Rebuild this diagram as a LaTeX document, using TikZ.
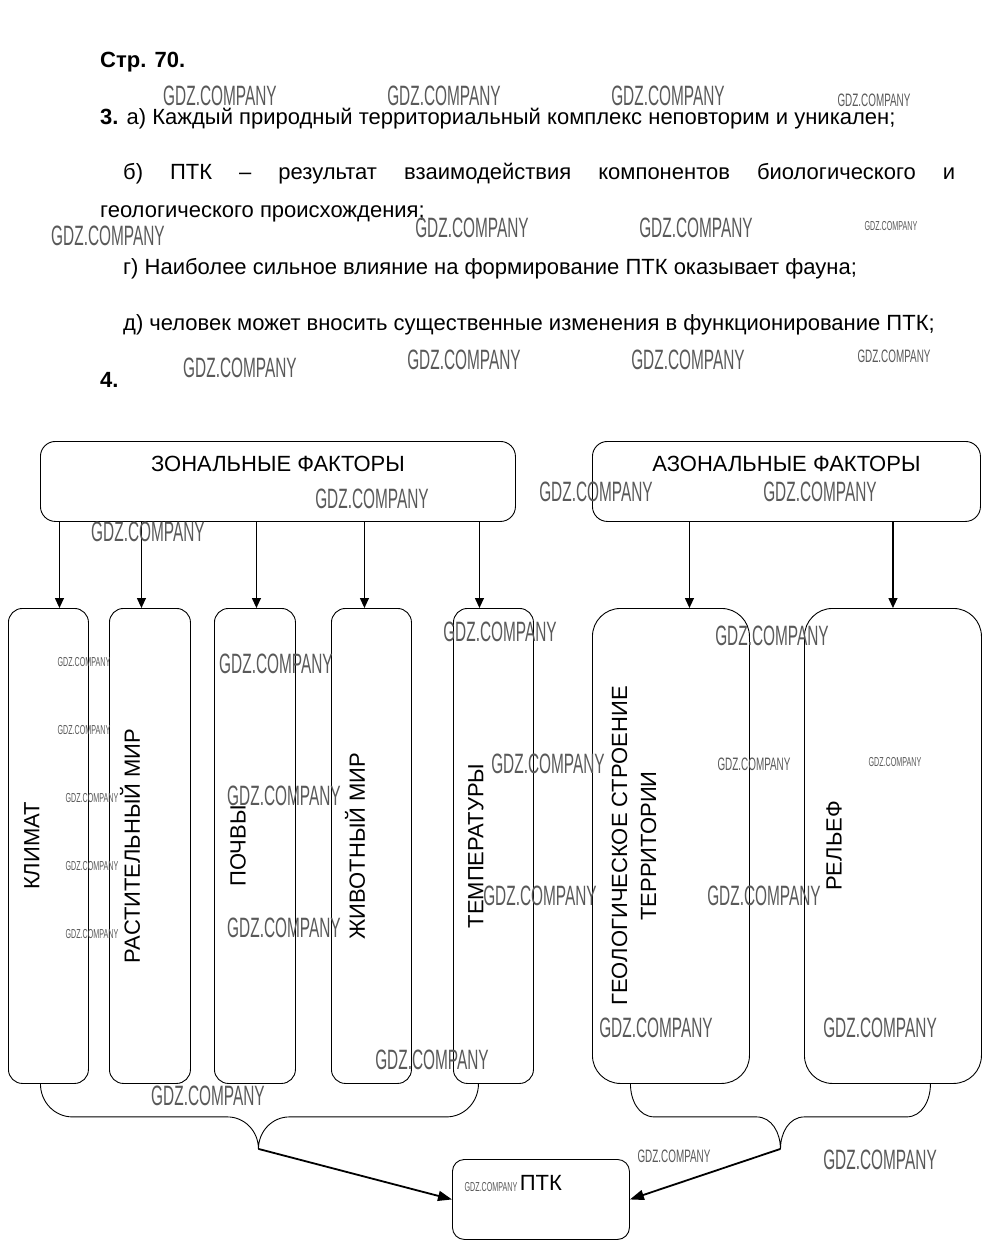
\documentclass[tikz,border=0pt]{standalone}
\usepackage{fontspec}
\setmainfont{Liberation Sans}
\usepackage{graphicx}
\usetikzlibrary{arrows.meta}

\newcommand{\gdz}{\scalebox{0.55}[1]{GDZ.COMPANY}}

\begin{document}
\begin{tikzpicture}[x=1pt,y=-1pt,
  txt/.style={anchor=base west,inner sep=0pt,font=\fontsize{22}{26}\selectfont},
  lab/.style={inner sep=0pt,font=\fontsize{22}{29}\selectfont},
  vlab/.style={lab,rotate=90,align=center},
  topbox/.style={draw,line width=0.9pt,rounded corners=15pt,minimum height=80pt,anchor=north west},
  thin box/.style={draw,line width=0.9pt,rounded corners=14pt,minimum height=475pt,anchor=north west},
  wide box/.style={draw,line width=0.9pt,rounded corners=28pt,minimum height=475pt,anchor=north west},
  varr/.style={line width=1.2pt,-{Triangle[length=10pt,width=9pt]}},
  darr/.style={line width=1.8pt,-{Triangle[length=14pt,width=10pt]}},
  brace/.style={line width=0.9pt},
  wml/.style={inner sep=0pt,text=black!65,font=\fontsize{28}{28}\selectfont},
  wms/.style={inner sep=0pt,text=black!65,font=\fontsize{18}{18}\selectfont},
  wmt/.style={inner sep=0pt,text=black!65,font=\fontsize{13}{13}\selectfont}]
  \useasboundingbox (0,0) rectangle (991,1252);

  % text of the page
  \node[txt] (str) at (100,68) {\textbf{Стр. 70.}};
  \node[txt] (p3) at (100,125) {\textbf{3.} а) Каждый природный территориальный комплекс неповторим и уникален;};
  \node[txt] (pb) at (123,179) {\makebox[832pt][s]{б) ПТК – результат взаимодействия компонентов биологического и}};
  \node[txt] (pb2) at (100,217) {геологического происхождения;};
  \node[txt] (pg) at (123,274) {г) Наиболее сильное влияние на формирование ПТК оказывает фауна;};
  \node[txt] (pd) at (123,330) {д) человек может вносить существенные изменения в функционирование ПТК;};
  \node[txt] (p4) at (100,387) {\textbf{4.}};

  % factors
  \node[topbox,minimum width=475pt] (zon) at (40,441) {};
  \node[lab] (zont) at ([yshift=-23pt]zon.north) {ЗОНАЛЬНЫЕ ФАКТОРЫ};
  \node[topbox,minimum width=388pt] (az) at (592,441) {};
  \node[lab] (azt) at ([yshift=-23pt]az.north) {АЗОНАЛЬНЫЕ ФАКТОРЫ};

  % components
  \node[thin box,minimum width=80pt] (klim) at (8,608) {};
  \node[thin box,minimum width=81pt] (rast) at (109,608) {};
  \node[thin box,minimum width=81pt] (poch) at (214,608) {};
  \node[thin box,minimum width=80pt] (zhiv) at (331,608) {};
  \node[thin box,minimum width=80pt] (temp) at (453,608) {};
  \node[wide box,minimum width=157pt] (geo) at (592,608) {};
  \node[wide box,minimum width=177pt] (rel) at (804,608) {};

  \node[vlab] (klimt) at ([xshift=24pt]klim.west) {КЛИМАТ};
  \node[vlab] (rastt) at ([xshift=21pt]rast.west) {РАСТИТЕЛЬНЫЙ МИР};
  \node[vlab] (pocht) at ([xshift=24pt]poch.west) {ПОЧВЫ};
  \node[vlab] (zhivt) at ([xshift=24pt]zhiv.west) {ЖИВОТНЫЙ МИР};
  \node[vlab] (tempt) at ([xshift=23pt]temp.west) {ТЕМПЕРАТУРЫ};
  \node[vlab] (geot) at ([xshift=42pt]geo.west) {ГЕОЛОГИЧЕСКОЕ СТРОЕНИЕ\\ТЕРРИТОРИИ};
  \node[vlab] (relt) at ([xshift=30pt]rel.west) {РЕЛЬЕФ};

  \coordinate (ka) at ([xshift=11pt]klim.north);
  \coordinate (ra) at ([xshift=-8.5pt]rast.north);
  \coordinate (pa) at ([xshift=1.5pt]poch.north);
  \coordinate (za) at ([xshift=-7pt]zhiv.north);
  \coordinate (ta) at ([xshift=-14pt]temp.north);
  \coordinate (ga) at ([xshift=18.5pt]geo.north);
  \coordinate (la) at (rel.north);
  \draw[varr] (zon.south -| ka) -- (ka);
  \draw[varr] (zon.south -| ra) -- (ra);
  \draw[varr] (zon.south -| pa) -- (pa);
  \draw[varr] (zon.south -| za) -- (za);
  \draw[varr] (zon.south -| ta) -- (ta);
  \draw[varr] (az.south -| ga) -- (ga);
  \draw[varr] (az.south -| la) -- (la);

  % braces and result
  \draw[brace] ([xshift=-8pt]klim.south) to[out=-90,in=180] ++(32,33) -- ++(155,0)
    to[out=0,in=90] ++(31,32) coordinate (ltip) to[out=90,in=180] ++(31,-32) -- ++(157,0)
    to[out=0,in=-90] ([xshift=-15pt]temp.south);
  \draw[brace] ([xshift=-40.5pt]geo.south) to[out=-90,in=180] ++(24,33) -- ++(102,0)
    to[out=0,in=90] ++(24,32) coordinate (rtip) to[out=90,in=180] ++(24,-32) -- ++(102,0)
    to[out=0,in=-90] ([xshift=37.5pt]rel.south);
  \node[draw,line width=0.9pt,rounded corners=12pt,minimum width=177pt,minimum height=80pt,anchor=north west] (ptk) at (452,1159) {};
  \node[lab] (ptkt) at ([yshift=-24pt]ptk.north) {ПТК};
  \draw[darr] (ltip) -- (ptk.west);
  \draw[darr] (rtip) -- (ptk.east);

  % watermarks
  \node[wml] (w1) at (220,96) {\gdz};
  \node[wml] (w2) at (444,96) {\gdz};
  \node[wml] (w3) at (668,96) {\gdz};
  \node[wms] (w4) at (874,100) {\gdz};
  \node[wml] (w5) at (108,236) {\gdz};
  \node[wml] (w6) at (472,228) {\gdz};
  \node[wml] (w7) at (696,228) {\gdz};
  \node[wmt] (w8) at (891,226) {\gdz};
  \node[wml] (w9) at (240,368) {\gdz};
  \node[wml] (w10) at (464,360) {\gdz};
  \node[wml] (w11) at (688,360) {\gdz};
  \node[wms] (w12) at (894,356) {\gdz};
  \node[wml] (w13) at (372,499) {\gdz};
  \node[wml] (w14) at (148,532) {\gdz};
  \node[wml] (w15) at (596,492) {\gdz};
  \node[wml] (w16) at (820,492) {\gdz};
  \node[wml] (w17) at (500,632) {\gdz};
  \node[wml] (w18) at (772,636) {\gdz};
  \node[wmt] (w19) at (84,662) {\gdz};
  \node[wmt] (w20) at (84,730) {\gdz};
  \node[wmt] (w21) at (92,798) {\gdz};
  \node[wmt] (w22) at (92,866) {\gdz};
  \node[wmt] (w23) at (92,934) {\gdz};
  \node[wml] (w24) at (276,664) {\gdz};
  \node[wml] (w25) at (548,764) {\gdz};
  \node[wms] (w26) at (754,764) {\gdz};
  \node[wmt] (w27) at (895,762) {\gdz};
  \node[wml] (w28) at (284,796) {\gdz};
  \node[wml] (w29) at (540,896) {\gdz};
  \node[wml] (w30) at (764,896) {\gdz};
  \node[wml] (w31) at (284,928) {\gdz};
  \node[wml] (w32) at (656,1028) {\gdz};
  \node[wml] (w33) at (880,1028) {\gdz};
  \node[wml] (w34) at (432,1060) {\gdz};
  \node[wml] (w35) at (208,1096) {\gdz};
  \node[wms] (w36) at (674,1156) {\gdz};
  \node[wml] (w37) at (880,1160) {\gdz};
  \node[wmt] (w38) at (491,1187) {\gdz};
\end{tikzpicture}
\end{document}
